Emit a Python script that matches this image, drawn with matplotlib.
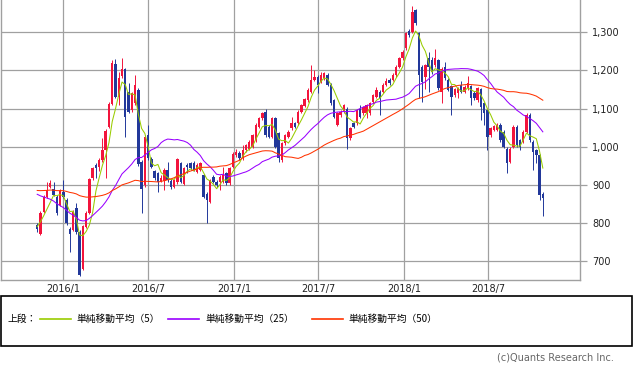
import numpy as np
import pandas as pd
import matplotlib
matplotlib.use('Agg')
import matplotlib.pyplot as plt
import matplotlib.dates as mdates
from matplotlib.lines import Line2D
from matplotlib.patches import Rectangle

# weekly candles, Nov 2015 - Oct 2018
opens = [794, 772, 829, 869, 895, 888, 869, 847, 882, 860,
         784, 781, 838, 777, 680, 790, 826, 917, 951, 947,
         965, 991, 1052, 1113, 1217, 1131, 1185, 1203, 1144, 1096,
         1114, 1149, 960, 899, 1030, 968, 936, 930, 910, 910,
         939, 910, 895, 906, 956, 903, 952, 956, 956, 934,
         939, 925, 877, 855, 921, 908, 908, 908, 930, 904,
         947, 978, 984, 969, 991, 995, 1000, 1017, 1052, 1074,
         1091, 1052, 1026, 1074, 1035, 965, 1009, 1026, 1048, 1061,
         1061, 1091, 1107, 1122, 1144, 1175, 1184, 1170, 1179, 1188,
         1162, 1122, 1057, 1083, 1091, 1100, 1022, 1061, 1061, 1100,
         1087, 1087, 1087, 1118, 1131, 1144, 1144, 1162, 1175, 1175,
         1188, 1210, 1232, 1258, 1304, 1302, 1358, 1297, 1210, 1184,
         1232, 1227, 1214, 1227, 1144, 1210, 1175, 1159, 1135, 1140,
         1162, 1144, 1153, 1159, 1141, 1122, 1150, 1114, 1096, 1030,
         1044, 1044, 1057, 1039, 995, 960, 1000, 1052, 1017, 1013,
         1039, 1083, 1013, 991, 978, 877]
closes = [783, 827, 869, 886, 904, 873, 825, 884, 869, 799,
          772, 829, 777, 663, 791, 827, 914, 943, 943, 965,
          991, 1041, 1113, 1220, 1131, 1179, 1205, 1078, 1092, 1140,
          1162, 955, 890, 1026, 969, 947, 917, 908, 917, 939,
          912, 893, 912, 967, 908, 943, 947, 943, 939, 952,
          956, 869, 860, 912, 908, 899, 921, 925, 904, 943,
          982, 987, 969, 991, 1004, 1013, 1030, 1057, 1074, 1087,
          1030, 1026, 1074, 1000, 969, 1009, 1030, 1039, 1061, 1052,
          1091, 1109, 1124, 1149, 1175, 1184, 1162, 1188, 1192, 1162,
          1114, 1079, 1087, 1091, 1109, 1022, 1048, 1052, 1096, 1079,
          1103, 1109, 1114, 1135, 1148, 1127, 1162, 1171, 1166, 1188,
          1210, 1232, 1249, 1297, 1293, 1354, 1324, 1188, 1170, 1214,
          1210, 1197, 1232, 1153, 1205, 1179, 1149, 1131, 1150, 1153,
          1144, 1157, 1166, 1127, 1127, 1153, 1105, 1087, 1026, 1048,
          1054, 1057, 1017, 1000, 956, 995, 1052, 1004, 1000, 1039,
          1083, 1017, 987, 978, 873, 864]
highs = [800, 831, 873, 908, 912, 908, 872, 888, 912, 864,
         790, 833, 851, 780, 795, 830, 918, 947, 956, 969,
         1022, 1045, 1117, 1227, 1229, 1197, 1232, 1207, 1166, 1144,
         1188, 1153, 965, 1030, 1058, 972, 940, 934, 925, 943,
         961, 914, 916, 971, 960, 947, 956, 960, 962, 956,
         960, 929, 881, 916, 925, 912, 925, 947, 934, 947,
         986, 995, 988, 1004, 1008, 1017, 1034, 1061, 1078, 1091,
         1098, 1056, 1078, 1078, 1039, 1013, 1034, 1043, 1078, 1065,
         1095, 1113, 1128, 1153, 1214, 1201, 1188, 1197, 1196, 1192,
         1166, 1126, 1091, 1095, 1113, 1104, 1052, 1065, 1100, 1109,
         1107, 1113, 1118, 1139, 1157, 1148, 1166, 1179, 1179, 1192,
         1214, 1236, 1253, 1301, 1308, 1369, 1362, 1301, 1214, 1218,
         1249, 1236, 1255, 1231, 1209, 1222, 1179, 1163, 1154, 1157,
         1171, 1161, 1185, 1163, 1145, 1157, 1154, 1118, 1100, 1052,
         1058, 1061, 1061, 1043, 999, 999, 1056, 1056, 1021, 1043,
         1087, 1087, 1017, 995, 982, 881]
lows = [777, 768, 825, 866, 891, 870, 820, 843, 865, 795,
        724, 778, 772, 660, 676, 786, 822, 913, 917, 935,
        961, 917, 1048, 1109, 1127, 1110, 1181, 1026, 1088, 1092,
        1110, 950, 825, 895, 965, 943, 913, 882, 906, 886,
        908, 890, 891, 902, 904, 899, 930, 939, 935, 930,
        935, 865, 799, 851, 904, 895, 886, 904, 900, 900,
        943, 974, 965, 965, 987, 991, 996, 1013, 1048, 1070,
        1026, 1022, 1022, 996, 960, 961, 1005, 1022, 1044, 1048,
        1057, 1087, 1103, 1118, 1140, 1171, 1140, 1166, 1175, 1158,
        1110, 1075, 1053, 1079, 1087, 995, 1018, 1048, 1057, 1075,
        1083, 1074, 1083, 1114, 1127, 1083, 1140, 1158, 1162, 1171,
        1184, 1206, 1228, 1254, 1289, 1298, 1320, 1127, 1118, 1150,
        1144, 1190, 1210, 1149, 1114, 1175, 1145, 1083, 1131, 1127,
        1140, 1140, 1149, 1110, 1123, 1118, 1070, 1057, 991, 1026,
        1040, 1040, 1013, 996, 930, 956, 996, 1000, 991, 1009,
        1035, 1013, 939, 956, 860, 818]

# closes before the visible window, only used to seed the averages
pre_closes = [850, 855, 865, 860, 885, 890, 878, 884, 895, 900,
              905, 898, 890, 902, 910, 915, 908, 900, 895, 905,
              912, 918, 910, 920, 925,
              930, 945, 960, 975, 990, 1000, 1010, 995, 980, 965,
              950, 930, 847,
              840, 800, 770, 760, 745, 758, 775, 762, 790, 800, 815]

ma_windows = [5, 25, 50]
ma_labels = ['単純移動平均（5）', '単純移動平均（25）', '単純移動平均（50）']
ma_colors = ['#99cc00', '#9900ff', '#ff3300']

tick_dates = ['2016-01-01', '2016-07-01', '2017-01-01', '2017-07-01',
              '2018-01-01', '2018-07-01']
tick_labels = ['2016/1', '2016/7', '2017/1', '2017/7', '2018/1', '2018/7']
price_ticks = [700, 800, 900, 1000, 1100, 1200, 1300]

CJK = ['Noto Sans CJK JP', 'DejaVu Sans']
RED = '#f2143c'
BLUE = '#22389a'
GRID = '#a0a0a0'

W, H = 633, 371
fig = plt.figure(figsize=(W / 100, H / 100), dpi=100)
ax = fig.add_axes([1 / W, 1 - 280.3 / H, 578.5 / W, 280.3 / H])

o = np.array(opens, float)
c = np.array(closes, float)
hi = np.array(highs, float)
lo = np.array(lows, float)
weeks = pd.date_range(end='2018-10-26', periods=len(closes), freq='W-FRI')
x = mdates.date2num(weeks)

cols = np.where(c >= o, RED, BLUE)
ax.vlines(x, lo, hi, colors=cols, lw=0.7, zorder=2)
ax.bar(x, np.maximum(np.abs(c - o), 1.5), bottom=np.minimum(o, c), width=5.2,
       color=cols, linewidth=0, zorder=3)

allc = pd.Series(pre_closes + closes, dtype=float)
for win, col in zip(ma_windows, ma_colors):
    ma = allc.rolling(win).mean().iloc[len(pre_closes):].values
    ax.plot(x, ma, color=col, lw=0.75, zorder=4)

t0 = mdates.date2num(pd.Timestamp('2016-01-01'))
t1 = mdates.date2num(pd.Timestamp('2018-07-01'))
ax.set_xlim(t0 - 133.7, t1 + 195.7)
ax.set_ylim(649.3, 1384.8)

ax.set_xticks(mdates.date2num(pd.to_datetime(tick_dates)))
ax.set_xticklabels(tick_labels)
ax.set_yticks(price_ticks)
ax.set_yticklabels(['{:,}'.format(v) for v in price_ticks])
ax.yaxis.tick_right()
ax.tick_params(axis='y', length=5, width=0.9, color=GRID, labelsize=7,
               pad=4, labelcolor='#222222')
ax.tick_params(axis='x', length=0, labelsize=7, pad=3, labelcolor='#222222')
ax.grid(True, color=GRID, lw=0.9)
ax.set_axisbelow(True)
ax.spines['top'].set_visible(False)
for s in ['left', 'right', 'bottom']:
    ax.spines[s].set_color(GRID)
    ax.spines[s].set_linewidth(1.0)


def fx(px):
    return px / W


def fy(py):
    return 1 - py / H


# legend panel
fig.add_artist(Rectangle((fx(0.6), fy(346)), fx(631.6), (346 - 295.7) / H,
                         transform=fig.transFigure, fill=False,
                         edgecolor='black', lw=1.2))
ly = fy(318.5)
fig.text(fx(8), ly, '上段：', va='center', fontsize=7, family=CJK)
line_x = [(40, 71), (168, 199), (312, 343)]
text_x = [76, 205, 348]
for (a, b), tx, col, lab in zip(line_x, text_x, ma_colors, ma_labels):
    fig.add_artist(Line2D([fx(a), fx(b)], [ly, ly], transform=fig.transFigure,
                          color=col, lw=1.2))
    fig.text(fx(tx), ly, lab, va='center', fontsize=7, family=CJK)

fig.text(fx(614), fy(357.7), '(c)Quants Research Inc.', ha='right',
         va='center', fontsize=7, color='#666666')

fig.savefig('out.png', dpi=100)
